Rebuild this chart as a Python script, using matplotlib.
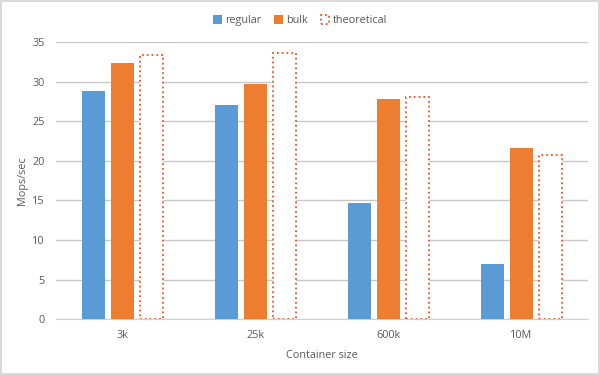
import matplotlib.pyplot as plt
import numpy as np

categories = ['3k', '25k', '600k', '10M']
regular = [28.8, 27.0, 14.7, 7.0]
bulk = [32.3, 29.7, 27.8, 21.6]
theoretical = [33.4, 33.6, 28.0, 20.7]
yticks = [0, 5, 10, 15, 20, 25, 30, 35]

plt.rcParams['font.family'] = ['Open Sans', 'DejaVu Sans']
text_color = '#595959'

fig = plt.figure(figsize=(6, 3.75), dpi=100)
fig.patch.set_edgecolor('#d9d9d9')
fig.patch.set_linewidth(1.5)
ax = fig.add_axes([0.093, 0.149, 0.887, 0.739])

x = np.arange(len(categories))
w = 0.173
step = 0.218
ax.bar(x - step, regular, w, color='#5b9bd5', label='regular', zorder=3)
ax.bar(x, bulk, w, color='#ed7d31', label='bulk', zorder=3)
ax.bar(x + step, theoretical, w, facecolor='white', edgecolor='#f4511e',
       linestyle=':', linewidth=1.3, label='theoretical', zorder=3)

ax.set_xlim(-0.5, len(categories) - 0.5)
ax.set_ylim(0, 35)
ax.set_yticks(yticks)
ax.set_xticks(x)
ax.set_xticklabels(categories)
ax.yaxis.grid(True, color='#c8c8c8', linewidth=1)
ax.set_axisbelow(True)
for s in ['top', 'right', 'left']:
    ax.spines[s].set_visible(False)
ax.spines['bottom'].set_color('#d0d0d0')
ax.tick_params(length=0, labelsize=7.8, colors=text_color)
ax.tick_params(axis='y', pad=8)
ax.tick_params(axis='x', pad=8)

ax.set_ylabel('Mops/sec', fontsize=7.8, color=text_color, labelpad=3)
ax.set_xlabel('Container size', fontsize=7.8, color=text_color, labelpad=6)

fig.legend(loc='upper center', bbox_to_anchor=(0.5, 0.985), ncol=3, frameon=False,
           fontsize=7.8, handlelength=0.8, handleheight=0.8, handletextpad=0.3,
           columnspacing=1.2, labelcolor=text_color)

fig.savefig('out.png', dpi=100, edgecolor=fig.get_edgecolor())
